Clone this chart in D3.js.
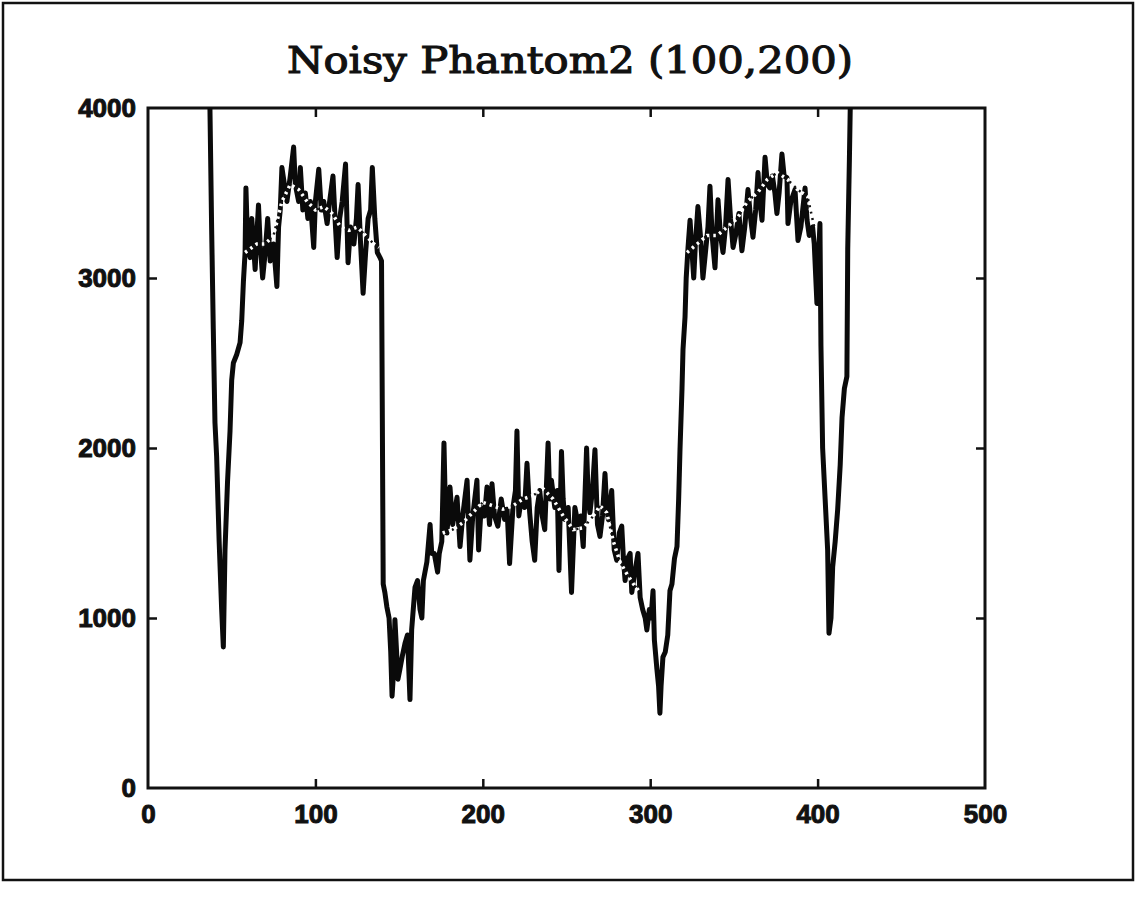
<!DOCTYPE html>
<html>
<head>
<meta charset="utf-8">
<script src="https://cdn.jsdelivr.net/npm/d3@7"></script>
<style>
  html, body { margin: 0; padding: 0; background: #fff; }
  svg { display: block; }
</style>
</head>
<body>
<svg id="chart" width="1138" height="905"></svg>
<script>
// ---------------- data ----------------
const titleText = "Noisy Phantom2 (100,200)";
const xTicks = [0, 100, 200, 300, 400, 500];
const yTicks = [0, 1000, 2000, 3000, 4000];
const xInnerTicks = [100, 200, 300, 400];
const yInnerTicks = [1000, 2000, 3000];

// noisy profile (solid line)
const noisyX = [36,37,38,39,40,41,42.5,44,45,46,47.5,49,50,51,53,55,56,57,58,58.5,59.5,61,62,63,64,65,66,67,68.5,70,71.5,73,75,77,78,79,80,81.5,83,85,87,88,89,90,91,92.5,94,95.5,97,99,100,102,103.5,105,107,108.5,110.5,112,113,114.5,116,118,119.5,121,123,124.5,125.5,127,128.5,130,131.5,133,134,135.5,137,138.6,139.5,140.5,141.5,142.7,144,145,145.8,146.8,147.5,148.5,149.3,150.5,152,153.5,155,156.5,157.5,159.5,161,162.5,163.6,164.5,166.6,168.5,169.5,171,173,174,175.5,176.8,177.8,178.6,180.4,182,184.6,186.4,188,190.6,192.3,194,196.5,197.5,199,201,202.5,204,205.5,207,209,211,213,214.5,216,218,219.5,220.4,221.5,223,225,226.4,228,229.5,231,232.5,234,235.5,237,239,240,241,243,244.5,245.5,247,248,249,251,253,255,257,258.5,260,262,263,264,265.5,267,268.5,270,271.5,273,274,275,277,278.5,280,281.5,283,284,285,286.5,288,289,290.5,292.7,294,295.5,297,298,299.5,300.5,301.7,302.5,304,305,305.8,306.5,307.6,309,310.5,311.8,313,314.5,316,317,317.8,319,319.6,320.8,321.5,322.6,323.8,325,326,327,328.5,330,331.5,333,334.5,335.7,337,338.7,340.5,342,343.5,345,346.5,348,349.5,351,353,354.8,356.5,358.4,360,361.4,363,364.4,365.5,366.8,368.6,370,371.5,373,374.5,375.7,377,378.7,380,381.7,382.3,384,386.5,388.3,390,392.5,393.7,395,397,398,399.6,400.5,401.4,402,403,404.5,406,406.8,408,409,410.5,412,413.5,414.6,416,417.5,418,419,419.5,420.5];
const noisyY = [4500,4000,3300,2700,2150,1950,1450,1050,830,1400,1800,2100,2400,2500,2550,2620,2750,2980,3150,3530,3200,3120,3350,3200,3050,3250,3430,3200,3000,3150,3350,3100,3200,2950,3300,3400,3650,3550,3450,3600,3770,3550,3500,3450,3650,3400,3500,3350,3450,3180,3450,3640,3400,3450,3320,3450,3600,3300,3120,3350,3450,3670,3090,3300,3200,3350,3550,3200,2910,3150,3350,3400,3650,3350,3150,3120,3100,1200,1150,1065,1000,800,540,700,990,800,640,700,780,850,900,520,930,1180,1220,1050,1000,1220,1330,1550,1380,1380,1270,1380,1450,2030,1580,1500,1770,1550,1710,1420,1600,1810,1340,1600,1810,1400,1650,1600,1770,1550,1790,1600,1540,1700,1580,1640,1320,1650,1750,2100,1600,1700,1650,1910,1620,1450,1340,1650,1750,1600,1520,2030,1700,1810,1650,1750,1280,1980,1700,1580,1650,1150,1650,1550,1600,1420,2000,1700,1620,1750,1990,1550,1480,1600,1850,1650,1580,1750,1400,1340,1500,1540,1350,1220,1350,1380,1150,1250,1380,1120,1050,1000,930,1050,1000,1160,870,700,600,440,600,770,800,900,1160,1200,1350,1420,1700,1990,2350,2580,2770,3000,3180,3340,3150,3000,3200,3420,3250,3000,3150,3300,3540,3250,3060,3460,3250,3150,3300,3580,3350,3180,3250,3380,3160,3300,3520,3350,3240,3400,3620,3450,3340,3710,3550,3530,3600,3500,3380,3500,3730,3600,3590,3320,3450,3520,3220,3300,3530,3340,3250,3300,3200,2850,3100,3320,2600,2000,1700,1400,910,1000,1300,1450,1640,1900,2180,2350,2420,3170,3700,4000,4500];

// smoothed profile (dotted line), null separates plateau segments
const smoothX = [58,65,70,75,80,85,90,95,100,105,110,115,120,125,130,135,138, 139, 176,182,188,194,200,206,212,218,224,230,236,242,248,254,260,266,270,274,278,282,286,290,294, 295, 322,328,334,340,346,352,358,364,370,376,382,388,394,398];
const smoothY = [3150,3200,3200,3250,3450,3550,3520,3450,3400,3420,3380,3300,3280,3300,3250,3200,3180, null, 1500,1520,1560,1620,1680,1660,1640,1660,1700,1720,1760,1700,1600,1520,1530,1600,1660,1620,1450,1330,1260,1200,1150, null, 3150,3200,3250,3250,3300,3350,3450,3500,3580,3620,3580,3520,3480,3300];

// ---------------- drawing ----------------
const svg = d3.select("#chart");
const plot = { left: 148, right: 985, top: 108, bottom: 788 };

const x = d3.scaleLinear().domain([0, 500]).range([plot.left, plot.right]);
const y = d3.scaleLinear().domain([0, 4000]).range([plot.bottom, plot.top]);

// outer frame
svg.append("rect")
  .attr("x", 3).attr("y", 3).attr("width", 1130).attr("height", 877)
  .attr("fill", "none").attr("stroke", "#111").attr("stroke-width", 2.5);

// title
svg.append("text")
  .attr("x", 570).attr("y", 73)
  .attr("text-anchor", "middle")
  .attr("font-family", "DejaVu Serif")
  .attr("font-size", 37)
  .attr("textLength", 566)
  .attr("lengthAdjust", "spacingAndGlyphs")
  .attr("fill", "#111")
  .attr("stroke", "#111")
  .attr("stroke-width", 1.1)
  .text(titleText);

svg.append("defs").append("clipPath").attr("id", "clip")
  .append("rect")
  .attr("x", plot.left).attr("y", plot.top)
  .attr("width", plot.right - plot.left).attr("height", plot.bottom - plot.top);

const tickFont = g => g.selectAll("text")
  .attr("font-family", "Liberation Sans")
  .attr("font-weight", "bold")
  .attr("font-size", 26)
  .attr("fill", "#111")
  .attr("stroke", "#111")
  .attr("stroke-width", 1);

// bottom axis with labels
const gx = svg.append("g")
  .attr("transform", `translate(0,${plot.bottom})`)
  .call(d3.axisBottom(x).tickValues(xTicks).tickFormat(d3.format("d"))
    .tickSizeInner(-9).tickSizeOuter(0).tickPadding(17));
gx.call(tickFont);
gx.select(".domain").remove();
gx.selectAll(".tick line").attr("stroke", "#111").attr("stroke-width", 2.5)
  .filter(d => d === 0 || d === 500).remove();

// left axis with labels
const gy = svg.append("g")
  .attr("transform", `translate(${plot.left},0)`)
  .call(d3.axisLeft(y).tickValues(yTicks).tickFormat(d3.format("d"))
    .tickSizeInner(-9).tickSizeOuter(0).tickPadding(12));
gy.call(tickFont);
gy.select(".domain").remove();
gy.selectAll(".tick line").attr("stroke", "#111").attr("stroke-width", 2.5)
  .filter(d => d === 0 || d === 4000).remove();

// top and right ticks (no labels)
const gt = svg.append("g")
  .attr("transform", `translate(0,${plot.top})`)
  .call(d3.axisTop(x).tickValues(xInnerTicks).tickFormat("").tickSizeInner(-9).tickSizeOuter(0));
gt.select(".domain").remove();
gt.selectAll(".tick line").attr("stroke", "#111").attr("stroke-width", 2.5);

const gr = svg.append("g")
  .attr("transform", `translate(${plot.right},0)`)
  .call(d3.axisRight(y).tickValues(yInnerTicks).tickFormat("").tickSizeInner(-9).tickSizeOuter(0));
gr.select(".domain").remove();
gr.selectAll(".tick line").attr("stroke", "#111").attr("stroke-width", 2.5);

// plot frame
svg.append("rect")
  .attr("x", plot.left).attr("y", plot.top)
  .attr("width", plot.right - plot.left).attr("height", plot.bottom - plot.top)
  .attr("fill", "none").attr("stroke", "#111").attr("stroke-width", 3);

const noisy = noisyX.map((d, i) => ({ x: d, y: noisyY[i] }));
const smooth = smoothX.map((d, i) => ({ x: d, y: smoothY[i] }));

const line = d3.line().defined(d => d.y != null).x(d => x(d.x)).y(d => y(d.y));

const lines = svg.append("g").attr("clip-path", "url(#clip)");
lines.append("path")
  .datum(noisy)
  .attr("d", line)
  .attr("fill", "none")
  .attr("stroke", "#0a0a0a")
  .attr("stroke-width", 5)
  .attr("stroke-linejoin", "round")
  .attr("stroke-linecap", "round");

// smoothed dotted line: white stipple with black dots
lines.append("path")
  .datum(smooth)
  .attr("d", line)
  .attr("fill", "none")
  .attr("stroke", "#fff")
  .attr("stroke-width", 3.5)
  .attr("stroke-dasharray", "2.5,4");
lines.append("path")
  .datum(smooth)
  .attr("d", line)
  .attr("fill", "none")
  .attr("stroke", "#111")
  .attr("stroke-width", 2.5)
  .attr("stroke-dasharray", "2,4.5")
  .attr("stroke-dashoffset", 3.2);
</script>
</body>
</html>
